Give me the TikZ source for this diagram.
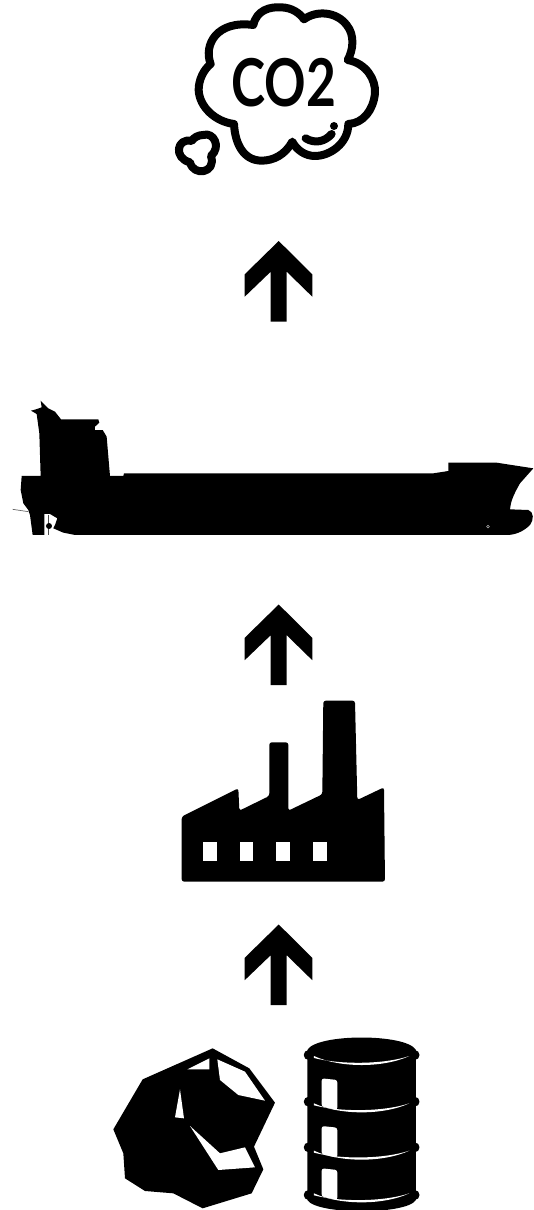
\documentclass[tikz,border=0pt]{standalone}
\usepackage{fontspec}
\setmainfont{Lato}
\usepackage{tikz}
\usetikzlibrary{calc}
\tikzset{
  solid fill/.style={fill=black, draw=none},
  hole/.style={fill=white, draw=none},
  cloud line/.style={draw=black, line width=8pt, line join=round, line cap=round, fill=none},
  co label/.style={font=\fontsize{66}{66}\selectfont\bfseries, text=black, inner sep=0pt, xscale=0.78, transform shape},
  zoomed/.style={x=0.3333pt, y=-0.3333pt},
}
\begin{document}
\begin{tikzpicture}[x=1pt,y=-1pt]
\useasboundingbox (0,0) rectangle (533,1210);
% arrows
\foreach \ty in {241,604.5,924.5}{
  \fill[solid fill] (278.7,\ty) -- (312.3,\ty+33.3) -- (312.3,\ty+55.7) -- (286.7,\ty+30.7) -- (286.7,\ty+80.7)
    -- (270.7,\ty+80.7) -- (270.7,\ty+30.7) -- (244.7,\ty+55.7) -- (244.7,\ty+33.3) -- cycle;
}
% cloud
\begin{scope}[shift={(160,0)},zoomed]
\draw[cloud line] (152,192) .. controls (130,135) and (170,60) .. (280,75)
  .. controls (290,30) and (330,20) .. (362,22) .. controls (395,22) and (420,40) .. (432,58)
  .. controls (470,30) and (530,35) .. (560,75) .. controls (585,105) and (580,150) .. (563,180)
  .. controls (620,190) and (648,240) .. (645,280) .. controls (640,330) and (610,370) .. (565,372)
  .. controls (565,430) and (510,468) .. (465,468) .. controls (435,468) and (410,450) .. (397,425)
  .. controls (375,465) and (340,482) .. (305,482) .. controls (250,482) and (225,430) .. (222,372)
  .. controls (165,365) and (118,320) .. (116,270) .. controls (116,240) and (130,210) .. (152,192) -- cycle;
\draw[cloud line] (95,423) .. controls (50,412) and (40,475) .. (90,487)
  .. controls (100,530) and (170,520) .. (153,468) .. controls (185,440) and (160,395) .. (130,405)
  .. controls (115,405) and (102,412) .. (95,423) -- cycle;
\draw[cloud line] (437,415) .. controls (465,432) and (495,425) .. (515,402);
\fill[solid fill] (522,378) circle[radius=4pt];
\node[co label] (colabel) at (372,249) {CO2};
\end{scope}
% ship
\begin{scope}[shift={(0,390)},zoomed]
\fill[solid fill] (93,62) -- (108,58) -- (125,52) -- (122,32) -- (145,55) -- (165,65) -- (183,88) -- (295,88) -- (298,98) -- (285,110)
  -- (285,120) -- (308,120) -- (320,140) -- (330,258) -- (370,258) -- (372,250) -- (1140,250) -- (1140,435) -- (225,435)
  -- (190,428) -- (160,415) -- (165,405) -- (172,385) -- (150,372) -- (133,372) -- (133,435) -- (98,435) -- (90,375)
  -- (85,360) -- (70,340) -- (62,300) -- (65,258) -- (122,258) -- (118,130) -- (110,72) -- cycle;
\draw[black!70, line width=1pt] (147,375) -- (147,435);
\fill[solid fill] (147,408) circle[radius=3pt];
\draw[black!60, line width=0.7pt] (38,358) -- (85,365);
\end{scope}
\begin{scope}[shift={(380,440)},zoomed]
\fill[solid fill] (0,100) -- (160,100) -- (205,93) -- (205,68) -- (350,68) -- (460,85) -- (420,130)
  .. controls (400,165) and (392,185) .. (390,208) -- (445,210) .. controls (462,215) and (462,240) .. (450,255)
  .. controls (430,275) and (405,285) .. (380,285) -- (0,285) -- cycle;
\draw[black!30, fill=black, line width=0.6pt] (324,260) circle[radius=1.4pt];
\end{scope}
% factory
\begin{scope}[shift={(170,690)},zoomed]
\fill[solid fill, rounded corners=2.5pt] (35,380) -- (205,295) -- (208,362) -- (298,318) -- (298,157) -- (355,157) -- (355,362)
  -- (457,313) -- (460,32) -- (555,32) -- (562,330) -- (642,292) -- (645,575) -- (35,575) -- cycle;
\foreach \wx in {100,209,319,429}{
  \fill[hole] (\wx,455) rectangle (\wx+41,512);
}
\end{scope}
% coal
\begin{scope}[shift={(100,1030)},zoomed]
\fill[solid fill] (338,55) -- (448,115) -- (525,218) -- (462,350) -- (490,418) -- (455,490) -- (308,535) -- (220,490)
  -- (135,483) -- (75,445) -- (70,370) -- (40,298) -- (128,148) -- cycle;
\fill[hole] (262,118) -- (328,85) -- (328,118) -- cycle;
\fill[hole] (352,88) -- (435,125) -- (495,212) -- (415,195) -- (360,150) -- cycle;
\fill[hole] (240,178) -- (252,265) -- (225,262) -- cycle;
\fill[hole] (270,288) -- (360,370) -- (435,352) -- (465,412) -- (355,420) -- cycle;
\end{scope}
% barrel
\begin{scope}[shift={(100,1030)},zoomed]
\fill[solid fill] (622,60) .. controls (650,10) and (920,10) .. (948,60) -- (948,510) .. controls (920,555) and (650,555) .. (622,510) -- cycle;
\foreach \ry in {75,215,352,495}{
  \fill[solid fill, rounded corners=4pt] (612,\ry-14) rectangle (958,\ry+14);
}
\foreach \rh/\rl in {145/95,288/95,415/95}{
  \fill[hole, rounded corners=2.5pt] (665,\rh) -- (712,\rh+5) -- (712,\rh+\rl) -- (665,\rh+\rl-10) -- cycle;
}
\foreach \wy in {78,220,362,490}{
  \fill[hole] (642,\wy) .. controls (720,\wy+36) and (850,\wy+36) .. (928,\wy) .. controls (850,\wy+26) and (720,\wy+26) .. (642,\wy+6) -- cycle;
}
\end{scope}
\end{tikzpicture}
\end{document}
